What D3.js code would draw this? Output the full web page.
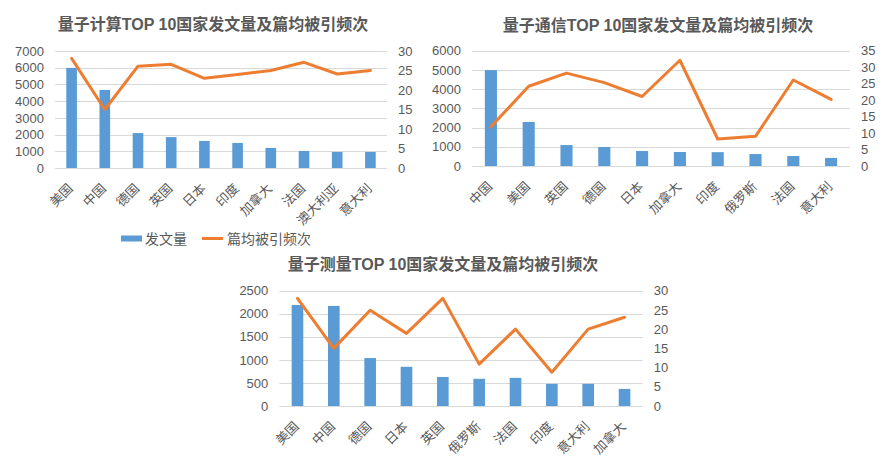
<!DOCTYPE html>
<html><head><meta charset="utf-8">
<script src="https://cdn.jsdelivr.net/npm/d3@7"></script>
<style>
html,body{margin:0;padding:0;background:#fff;}
text{font-family:"Liberation Sans","Noto Sans CJK SC",sans-serif;fill:#595959;}
</style></head>
<body>
<svg id="c" width="888" height="465"></svg>
<script>
// Chart 1: 量子计算
const calcCountries = ["美国","中国","德国","英国","日本","印度","加拿大","法国","澳大利亚","意大利"];
const calcPapers = [5990,4670,2090,1850,1620,1500,1200,1020,960,960];
const calcCites = [28.1,15.0,26.1,26.6,23.0,24.0,25.0,27.1,24.1,25.0];
const calcLeftTicks = [0,1000,2000,3000,4000,5000,6000,7000];
const calcRightTicks = [0,5,10,15,20,25,30];

// Chart 2: 量子通信
const commCountries = ["中国","美国","英国","德国","日本","加拿大","印度","俄罗斯","法国","意大利"];
const commPapers = [4990,2290,1090,990,780,730,720,620,520,420];
const commCites = [11.9,24.2,28.2,25.3,21.1,32.1,8.2,9.0,26.1,20.2];
const commLeftTicks = [0,1000,2000,3000,4000,5000,6000];
const commRightTicks = [0,5,10,15,20,25,30,35];

// Chart 3: 量子测量
const measCountries = ["美国","中国","德国","日本","英国","俄罗斯","法国","印度","意大利","加拿大"];
const measPapers = [2190,2170,1040,850,630,590,610,480,480,370];
const measCites = [28.0,15.0,24.9,18.9,28.0,10.9,20.0,8.8,20.0,23.1];
const measLeftTicks = [0,500,1000,1500,2000,2500];
const measRightTicks = [0,5,10,15,20,25,30];

const titles = ["量子计算TOP 10国家发文量及篇均被引频次","量子通信TOP 10国家发文量及篇均被引频次","量子测量TOP 10国家发文量及篇均被引频次"];
const legendLabels = ["发文量","篇均被引频次"];

const BLUE="#5B9BD5", ORANGE="#ED7D31", GRID="#D9D9D9";
const svg = d3.select("#c");

function drawChart(cfg){
  const g = svg.append("g");
  const x = d3.scaleBand().domain(cfg.cats).range([cfg.x0,cfg.x1]).paddingInner(0.68).paddingOuter(0.34);
  const yl = d3.scaleLinear().domain([0,d3.max(cfg.lt)]).range([cfg.y1,cfg.y0]);
  const yr = d3.scaleLinear().domain([0,d3.max(cfg.rt)]).range([cfg.y1,cfg.y0]);
  // title
  g.append("text").attr("x",cfg.tx).attr("y",cfg.ty).attr("text-anchor","middle")
    .style("font-size","16px").style("font-weight","bold").text(cfg.title);
  // gridlines
  g.selectAll("line.grid").data(cfg.lt).enter().append("line")
    .attr("x1",cfg.x0).attr("x2",cfg.x1).attr("y1",d=>Math.round(yl(d))+0.5).attr("y2",d=>Math.round(yl(d))+0.5)
    .attr("stroke",GRID).attr("stroke-width",1);
  // left axis
  const la = d3.axisLeft(yl).tickValues(cfg.lt).tickSize(0).tickPadding(11).tickFormat(d3.format("d"));
  const lag = g.append("g").attr("transform",`translate(${cfg.x0},0)`).call(la);
  lag.select(".domain").remove();
  lag.selectAll("text").style("font-size","13px").attr("fill","#595959");
  // right axis
  const ra = d3.axisRight(yr).tickValues(cfg.rt).tickSize(0).tickPadding(11).tickFormat(d3.format("d"));
  const rag = g.append("g").attr("transform",`translate(${cfg.x1},0)`).call(ra);
  rag.select(".domain").remove();
  rag.selectAll("text").style("font-size","13px").attr("fill","#595959");
  // bars
  g.selectAll("rect.bar").data(cfg.cats).enter().append("rect")
    .attr("x",d=>x(d)).attr("width",x.bandwidth())
    .attr("y",(d,i)=>yl(cfg.papers[i])).attr("height",(d,i)=>cfg.y1-yl(cfg.papers[i]))
    .attr("fill",BLUE);
  // line
  const line = d3.line().x((d,i)=>x(cfg.cats[i])+x.bandwidth()/2).y(d=>yr(d));
  g.append("path").datum(cfg.cites).attr("d",line).attr("fill","none")
    .attr("stroke",ORANGE).attr("stroke-width",3).attr("stroke-linejoin","round").attr("stroke-linecap","round");
  // category labels
  g.selectAll("text.cat").data(cfg.cats).enter().append("text")
    .attr("transform",d=>`translate(${x(d)+x.bandwidth()/2-1},${cfg.y1+18}) rotate(-45)`)
    .attr("text-anchor","end").attr("dominant-baseline","central")
    .style("font-size","13px").text(d=>d);
}

drawChart({cats:calcCountries,papers:calcPapers,cites:calcCites,lt:calcLeftTicks,rt:calcRightTicks,
  x0:55,x1:387,y0:51,y1:168,tx:213,ty:30,title:titles[0]});
drawChart({cats:commCountries,papers:commPapers,cites:commCites,lt:commLeftTicks,rt:commRightTicks,
  x0:472,x1:850,y0:50.7,y1:166,tx:658,ty:31,title:titles[1]});
drawChart({cats:measCountries,papers:measPapers,cites:measCites,lt:measLeftTicks,rt:measRightTicks,
  x0:279.3,x1:642.7,y0:290.7,y1:406,tx:443,ty:270,title:titles[2]});

// legend for chart 1
const lg = svg.append("g");
lg.append("rect").attr("x",121).attr("y",235.5).attr("width",21).attr("height",6).attr("fill",BLUE);
lg.append("text").attr("x",145).attr("y",238.5).attr("dominant-baseline","central").style("font-size","14px").text(legendLabels[0]);
lg.append("line").attr("x1",202).attr("x2",223).attr("y1",238.5).attr("y2",238.5).attr("stroke",ORANGE).attr("stroke-width",3);
lg.append("text").attr("x",227).attr("y",238.5).attr("dominant-baseline","central").style("font-size","14px").text(legendLabels[1]);
</script>
</body></html>
